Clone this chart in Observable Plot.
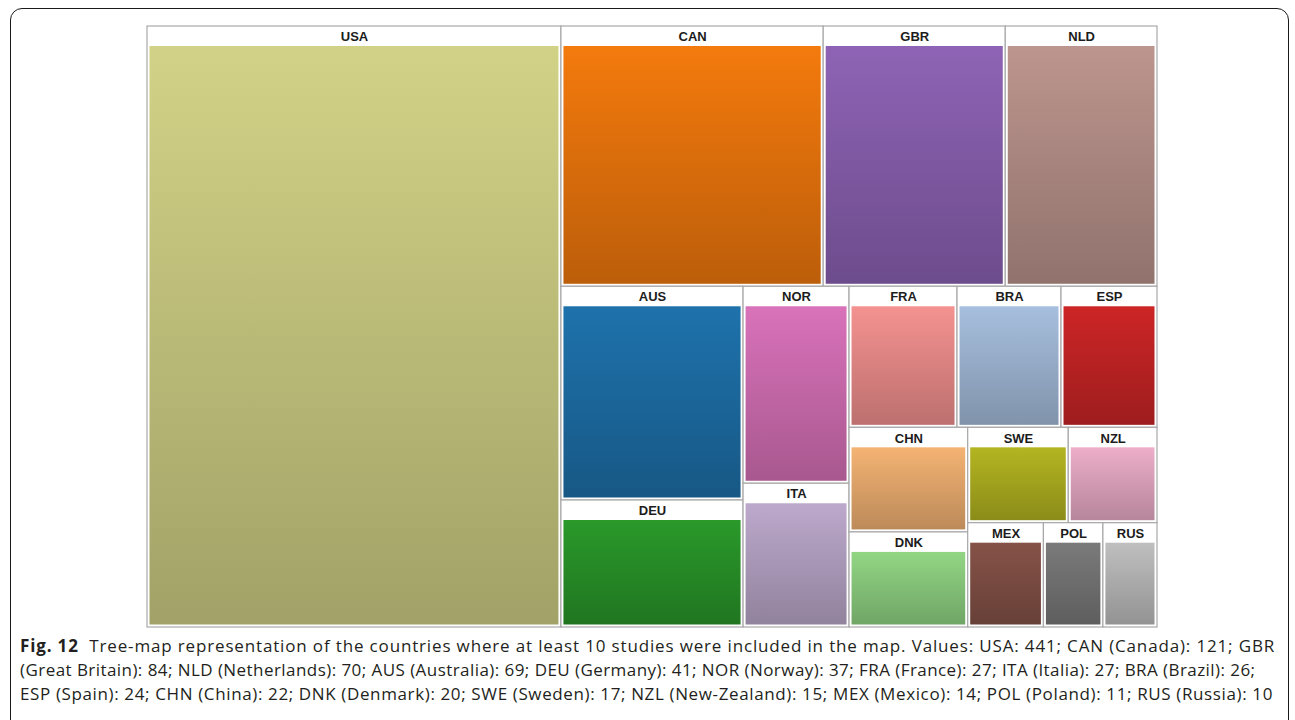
<!DOCTYPE html>
<html>
<head>
<meta charset="utf-8">
<script src="https://cdn.jsdelivr.net/npm/d3@7"></script>
<script src="https://cdn.jsdelivr.net/npm/@observablehq/plot@0.6"></script>
<style>
  html, body { margin: 0; padding: 0; background: #fff; width: 1295px; height: 720px; overflow: hidden; }
  #frame { position: absolute; left: 10px; top: 8px; width: 1279px; height: 780px; border: 1.5px solid #1a1a1a; border-radius: 12px; box-sizing: border-box; }
  #chart { position: absolute; left: 0; top: 0; }
  #caption { position: absolute; left: 20px; top: 634px; font-family: "Open Sans", "Noto Sans", sans-serif; font-size: 17px; line-height: 24px; color: #231f20; white-space: nowrap; }
  #caption span { display: inline-block; }
  #caption b { font-weight: 700; }
</style>
</head>
<body>
<div id="frame"></div>
<div id="chart"></div>
<div id="caption"></div>
<script>
// ---- data ----
const codes  = ["USA","CAN","GBR","NLD","AUS","DEU","NOR","FRA","ITA","BRA","ESP","CHN","DNK","SWE","NZL","MEX","POL","RUS"];
const values = [441, 121, 84, 70, 69, 41, 37, 27, 27, 26, 24, 22, 20, 17, 15, 14, 11, 10];
const names  = ["", "Canada", "Great Britain", "Netherlands", "Australia", "Germany", "Norway", "France", "Italia", "Brazil", "Spain", "China", "Denmark", "Sweden", "New-Zealand", "Mexico", "Poland", "Russia"];
const colors = ["#dbdb8d","#ff7f0e","#9467bd","#c49c94","#1f77b4","#2ca02c","#e377c2","#ff9896","#c5b0d5","#aec7e8","#d62728","#ffbb78","#98df8a","#bcbd22","#f7b6d2","#8c564b","#7f7f7f","#c7c7c7"];
// arrangement of the tiles: "h" = side by side, "v" = stacked
const arrangement = ["h", "USA",
  ["v", ["h", "CAN", "GBR", "NLD"],
        ["h", ["v", "AUS", "DEU"], ["v", "NOR", "ITA"],
              ["v", ["h", "FRA", "BRA", "ESP"],
                    ["h", ["v", "CHN", "DNK"],
                          ["v", ["h", "SWE", "NZL"], ["h", "MEX", "POL", "RUS"]]]]]]];
// caption order (as listed in the figure legend)
const captionOrder = ["USA","CAN","GBR","NLD","AUS","DEU","NOR","FRA","ITA","BRA","ESP","CHN","DNK","SWE","NZL","MEX","POL","RUS"];

// ---- layout ----
function build(spec) {
  if (typeof spec === "string") {
    const i = codes.indexOf(spec);
    return {code: spec, value: values[i], color: colors[i]};
  }
  return {dir: spec[0], children: spec.slice(1).map(build)};
}
const root = d3.hierarchy(build(arrangement), d => d.children).sum(d => d.value || 0);
d3.treemap()
  .size([1, 1])
  .round(false)
  .tile((node, x0, y0, x1, y1) =>
    node.data.dir === "h" ? d3.treemapDice(node, x0, y0, x1, y1) : d3.treemapSlice(node, x0, y0, x1, y1))(root);
const leaves = root.leaves().map(d => ({code: d.data.code, value: d.data.value, color: d.data.color, x0: d.x0, x1: d.x1, y0: d.y0, y1: d.y1}));

const W = 1295, H = 636;
const plot = Plot.plot({
  width: W,
  height: H,
  marginLeft: 147,
  marginRight: 138,
  marginTop: 26,
  marginBottom: 9,
  x: {domain: [0, 1], axis: null},
  y: {domain: [0, 1], axis: null, reverse: true},
  color: {type: "identity"},
  marks: [
    Plot.rect(leaves, {x1: "x0", x2: "x1", y1: "y0", y2: "y1", fill: "white", stroke: "#a9a9a9", strokeWidth: 1.2}),
    Plot.rect(leaves, {x1: "x0", x2: "x1", y1: "y0", y2: "y1", fill: d => `url(#grad-${d.code})`,
      insetTop: 20, insetLeft: 2.5, insetRight: 2.5, insetBottom: 2.5}),
    Plot.text(leaves, {x: d => (d.x0 + d.x1) / 2, y: "y0", text: "code", dy: 10.5, fontSize: 13, fontWeight: "bold",
      fontFamily: "Liberation Sans, Arial, sans-serif", fill: "#1c1c1c", lineAnchor: "middle"})
  ]
});
const defs = d3.select(plot).insert("defs", ":first-child");
leaves.forEach(d => {
  const c = d3.color(d.color);
  const g = defs.append("linearGradient").attr("id", `grad-${d.code}`).attr("x1", 0).attr("y1", 0).attr("x2", 0).attr("y2", 1);
  g.append("stop").attr("offset", "0%").attr("stop-color", c.darker(0.12).formatHex());
  g.append("stop").attr("offset", "100%").attr("stop-color", c.darker(0.85).formatHex());
});
document.getElementById("chart").appendChild(plot);

// ---- caption ----
const entries = captionOrder.map(code => {
  const i = codes.indexOf(code);
  return names[i] ? `${code} (${names[i]}): ${values[i]}` : `${code}: ${values[i]}`;
}).join("; ");
const full = "Tree-map representation of the countries where at least 10 studies were included in the map. Values: " + entries;
// line breaks as in the figure
const br1 = full.indexOf("GBR (") + 3;
const br2 = full.indexOf("ESP (");
const cap = document.getElementById("caption");
cap.innerHTML = `<span><b>Fig. 12</b>&nbsp; ${full.slice(0, br1)}</span><br><span>${full.slice(br1 + 1, br2)}</span><br><span>${full.slice(br2)}</span>`;
// fit each line to the width it has in the figure
const lineWidths = [1255, 1236, 1253];
cap.querySelectorAll("span").forEach((s, i) => {
  const n = s.textContent.length;
  const ls = (lineWidths[i] - s.getBoundingClientRect().width) / n;
  s.style.letterSpacing = ls.toFixed(3) + "px";
});
</script>
</body>
</html>
